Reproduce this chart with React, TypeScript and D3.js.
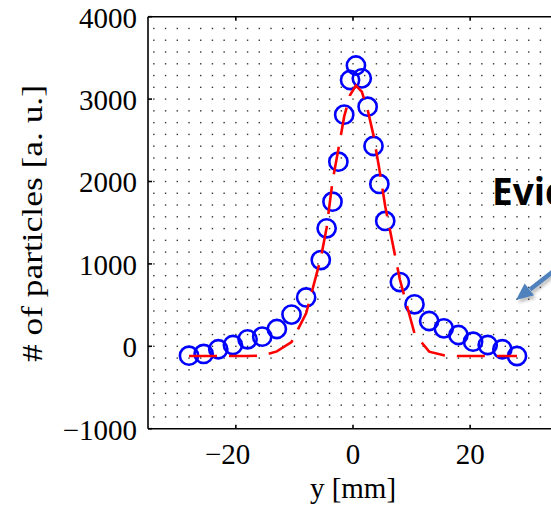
import React from "react";
import * as d3 from "d3";

// Beam position y [mm]
const positions: number[] = [
  -28, -25.5, -23, -20.5, -18, -15.5, -13, -10.5, -8, -5.5, -4.5, -3.5, -2.5, -1.5, -0.5,
  0.5, 1.5, 2.5, 3.5, 4.5, 5.5, 8, 10.5, 13, 15.5, 18, 20.5, 23, 25.5, 28,
];
// Measured particle counts (blue circles)
const measured: number[] = [
  -114, -93, -36, 16, 85, 117, 210, 385, 593, 1047, 1432, 1755, 2240, 2811, 3232,
  3408, 3252, 2908, 2431, 1970, 1521, 780, 510, 307, 218, 137, 56, 16, -36, -118,
];
// Fitted curve (red dashed)
const fitted: number[] = [
  -118, -118, -118, -118, -118, -113, -62, 52, 400, 1070, 1440, 2000, 2390, 2790, 3050,
  3165, 3090, 2870, 2560, 2150, 1700, 810, 155, -65, -109, -118, -118, -118, -118, -118,
];
const xTicks: number[] = [-20, 0, 20];
const yTicks: number[] = [-1000, 0, 1000, 2000, 3000, 4000];
const xLabel = "y [mm]";
const yLabel = "# of particles [a. u.]";
const note = "Evid";

const fmt = (v: number) => (v < 0 ? "\u2212" + Math.abs(v) : String(v));

export default function App() {
  const W = 551;
  const H = 505;
  const x = d3.scaleLinear().domain([-35, 35]).range([148, 558]);
  const y = d3.scaleLinear().domain([-1000, 4000]).range([428.7, 16.7]);
  const [x0, x1] = x.range();
  const [yb, yt] = y.range();

  const gridX = d3.range(-34, 35, 2);
  const gridY = d3.range(1, 35).map((k) => -1000 + (k * 1000) / 7);

  const line = d3
    .line<number>()
    .x((_, i) => x(positions[i]))
    .y((d) => y(d));

  const serif = "'Liberation Serif', 'Times New Roman', serif";
  const fs = 29;
  const minusShift = (0.564 * fs) / 2;

  const arrowShaft = { x1: 562, y1: 264.5, x2: 530, y2: 289.5 };
  const arrowHead = "516,300 534,295.3 524.6,283.5";

  return (
    <svg
      width={W}
      height={H}
      style={{ position: "absolute", left: 0, top: 0, background: "#fff" }}
      fontFamily={serif}
    >
      <defs>
        <filter id="shadow" x="-50%" y="-50%" width="200%" height="200%">
          <feGaussianBlur stdDeviation="1.5" />
        </filter>
      </defs>
      {/* dotted grid */}
      <g fill="#333">
        {gridX.map((gx) =>
          gridY.map((gy) => (
            <rect key={gx + "_" + gy} x={x(gx) - 0.7} y={y(gy) - 0.7} width={1.4} height={1.4} />
          ))
        )}
      </g>

      {/* axes box */}
      <g stroke="#000" strokeWidth={1.6} fill="none">
        <line x1={x0} x2={x1} y1={yb} y2={yb} />
        <line x1={x0} x2={x1} y1={yt} y2={yt} />
        <line x1={x0} x2={x0} y1={yt} y2={yb} />
        <line x1={x1} x2={x1} y1={yt} y2={yb} />
        {xTicks.map((t) => (
          <g key={"xt" + t}>
            <line x1={x(t)} x2={x(t)} y1={yb} y2={yb - 4} />
            <line x1={x(t)} x2={x(t)} y1={yt} y2={yt + 4} />
          </g>
        ))}
        {yTicks.map((t) => (
          <line key={"yt" + t} x1={x0} x2={x0 + 4} y1={y(t)} y2={y(t)} />
        ))}
      </g>

      {/* tick labels */}
      <g fontSize={fs} fill="#000">
        {xTicks.map((t) => (
          <text key={"xl" + t} x={x(t) - (t < 0 ? minusShift : 0)} y={464} textAnchor="middle">
            {fmt(t)}
          </text>
        ))}
        {yTicks.map((t) => (
          <text key={"yl" + t} x={137} y={y(t) + 10.8} textAnchor="end">
            {fmt(t)}
          </text>
        ))}
      </g>

      {/* axis labels */}
      <text x={353} y={498} fontSize={fs} textAnchor="middle">
        {xLabel}
      </text>
      <text
        transform={`translate(41.5,223.5) rotate(-90)`}
        fontSize={30}
        textAnchor="middle"
        textLength={277}
        lengthAdjust="spacingAndGlyphs"
      >
        {yLabel}
      </text>

      {/* measured data */}
      <g fill="none" stroke="#0000ff" strokeWidth={2.6}>
        {measured.map((v, i) => (
          <circle key={"c" + i} cx={x(positions[i])} cy={y(v)} r={9.1} />
        ))}
      </g>

      {/* fit */}
      <path
        d={line(fitted) || ""}
        fill="none"
        stroke="#ff0000"
        strokeWidth={2.6}
        strokeDasharray="28 12"
      />

      {/* annotation */}
      <text
        x={492}
        y={205}
        fontFamily="'Open Sans', 'DejaVu Sans', sans-serif"
        fontWeight={700}
        fontSize={37}
        fill="#000"
      >
        {note}
      </text>
      <g filter="url(#shadow)" opacity={0.35} transform="translate(2,3)">
        <line {...arrowShaft} stroke="#555" strokeWidth={4.5} />
        <polygon points={arrowHead} fill="#555" />
      </g>
      <line {...arrowShaft} stroke="#4f81bd" strokeWidth={4.5} />
      <polygon points={arrowHead} fill="#4f81bd" />
    </svg>
  );
}
